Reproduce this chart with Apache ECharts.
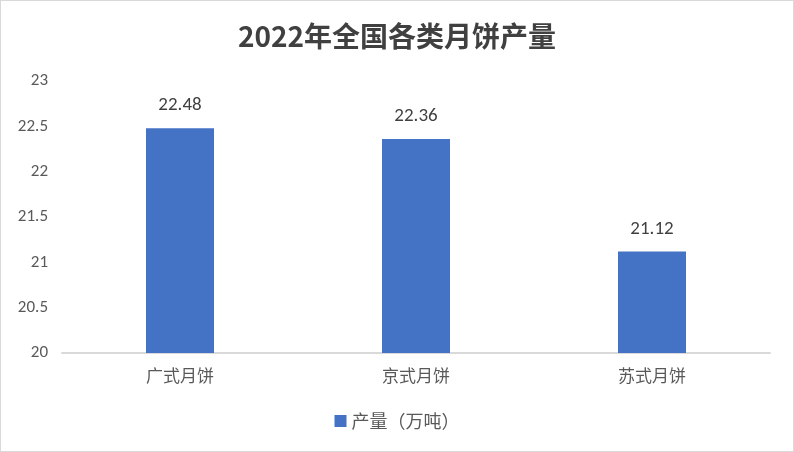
<!DOCTYPE html>
<html><head><meta charset="utf-8">
<script src="https://cdn.jsdelivr.net/npm/echarts@6/dist/echarts.min.js"></script>
<style>html,body{margin:0;padding:0;background:#fff}#c{width:792px;height:450px;border:1px solid #d9d9d9}</style>
</head><body><div id="c"></div>
<script>
const titleText = '2022年全国各类月饼产量';
const categories = ['广式月饼', '京式月饼', '苏式月饼'];
const seriesName = '产量（万吨）';
const values = [22.48, 22.36, 21.12];
const yTicks = [20, 20.5, 21, 21.5, 22, 22.5, 23];

const chart = echarts.init(document.getElementById('c'));
chart.setOption({
  animation: false,
  title: { text: titleText, left: 'center', top: 16, textStyle: { fontSize: 28, fontWeight: 'bold', color: '#404040', fontFamily: 'Noto Sans CJK SC' } },
  grid: { left: 61, right: 23, top: 80, bottom: 98 },
  legend: { bottom: 16, left: 'center', itemWidth: 12, itemHeight: 12, itemGap: 8, icon: 'rect', textStyle: { fontSize: 18, color: '#595959', fontFamily: 'Noto Sans CJK SC' } },
  xAxis: { type: 'category', data: categories, axisTick: { show: false },
    axisLine: { lineStyle: { color: '#d9d9d9', width: 2 } },
    axisLabel: { fontSize: 17, color: '#595959', margin: 14, fontFamily: 'Noto Sans CJK SC' } },
  yAxis: { type: 'value', min: yTicks[0], max: yTicks[yTicks.length-1], interval: 0.5,
    splitLine: { show: false }, axisLine: { show: false }, axisTick: { show: false },
    axisLabel: { fontSize: 17, color: '#595959', margin: 14, fontFamily: 'Calibri, Carlito, Noto Sans' } },
  series: [{ name: seriesName, type: 'bar', data: values, barWidth: 68,
    itemStyle: { color: '#4472c4' },
    label: { show: true, position: 'top', distance: 13, fontSize: 19, color: '#404040', fontFamily: 'Calibri, Carlito, Noto Sans' } }]
});
</script></body></html>
